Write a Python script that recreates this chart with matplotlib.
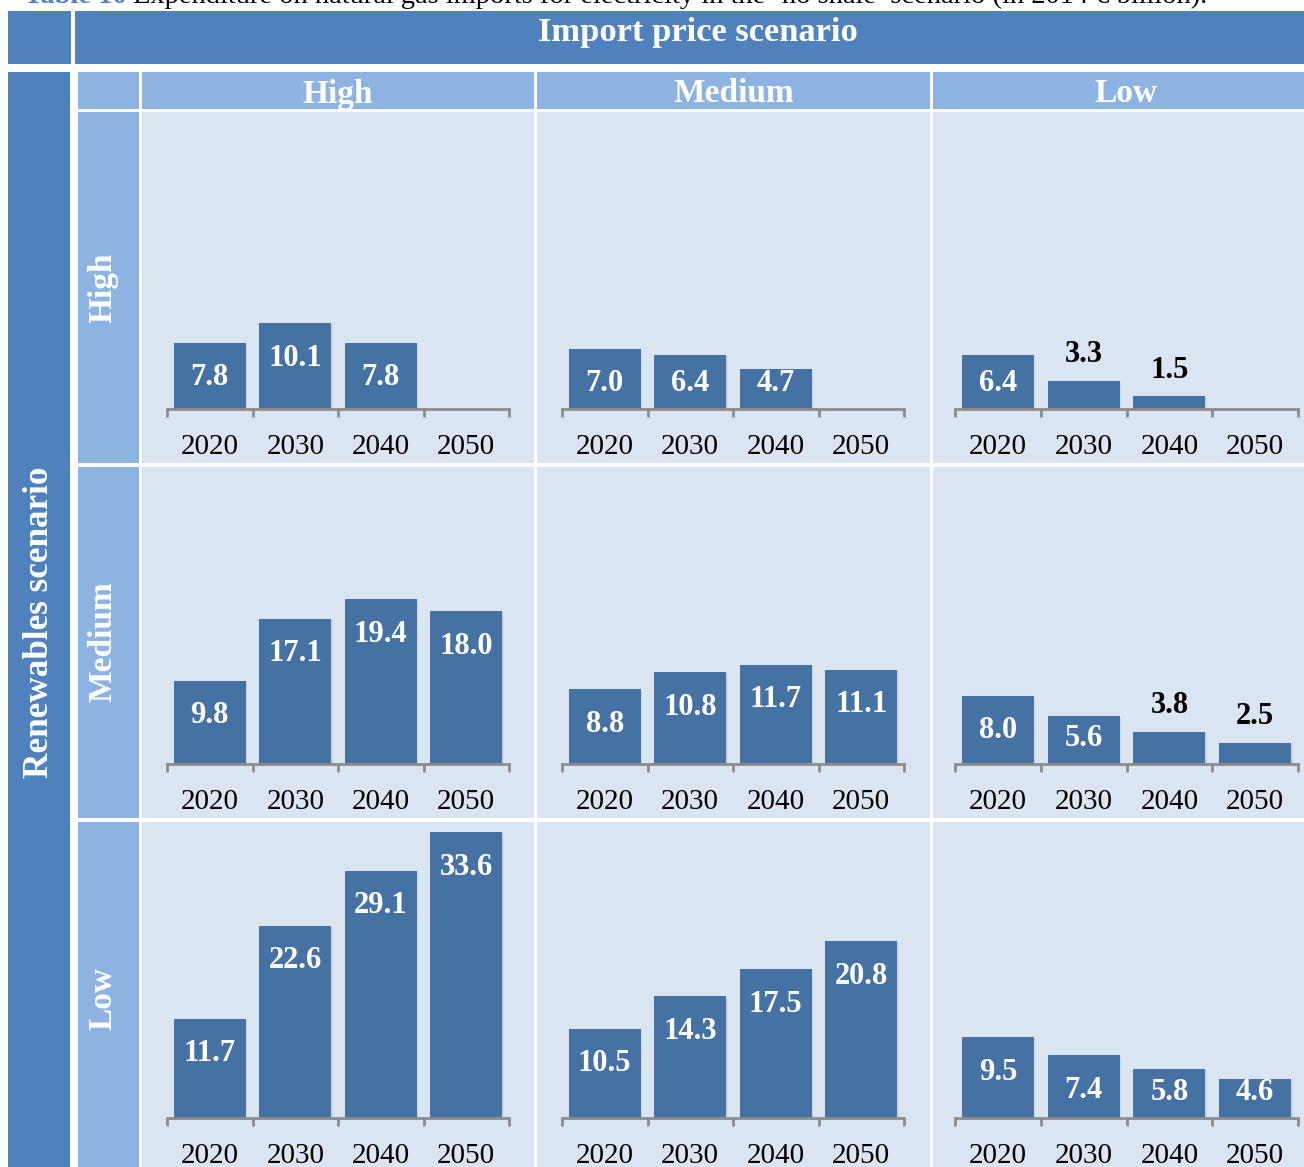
import matplotlib
matplotlib.use('Agg')
import matplotlib.pyplot as plt
from matplotlib.patches import Rectangle
import numpy as np

years = ['2020', '2030', '2040', '2050']
price_scenarios = ['High', 'Medium', 'Low']
renewables_scenarios = ['High', 'Medium', 'Low']

# expenditure (2014 EUR bn), one list per renewables/import-price pair
ren_high_price_high = [7.8, 10.1, 7.8, np.nan]
ren_high_price_medium = [7.0, 6.4, 4.7, np.nan]
ren_high_price_low = [6.4, 3.3, 1.5, np.nan]
ren_medium_price_high = [9.8, 17.1, 19.4, 18.0]
ren_medium_price_medium = [8.8, 10.8, 11.7, 11.1]
ren_medium_price_low = [8.0, 5.6, 3.8, 2.5]
ren_low_price_high = [11.7, 22.6, 29.1, 33.6]
ren_low_price_medium = [10.5, 14.3, 17.5, 20.8]
ren_low_price_low = [9.5, 7.4, 5.8, 4.6]

grid = [[ren_high_price_high, ren_high_price_medium, ren_high_price_low],
        [ren_medium_price_high, ren_medium_price_medium, ren_medium_price_low],
        [ren_low_price_high, ren_low_price_medium, ren_low_price_low]]

caption_num = 'Table 10'
caption = "Expenditure on natural gas imports for electricity in the \u2018no shale\u2019 scenario (in 2014 \u20ac billion)."

DARK = '#4F81BD'
LIGHT = '#8DB3E2'
PANEL = '#DBE5F1'
BAR = '#4672A3'
AXIS = '#8C8C8C'
FONT = ['Liberation Serif', 'DejaVu Serif']

W, H = 1304, 1167
PX_PER_UNIT = 8.5

fig = plt.figure(figsize=(W / 100, H / 100), dpi=100)
fig.patch.set_facecolor('white')

# background table drawn in pixel coordinates
bg = fig.add_axes([0, 0, 1, 1])
bg.set_xlim(0, W)
bg.set_ylim(H, 0)
bg.set_axis_off()


def cell(x0, y0, x1, y1, color):
    bg.add_patch(Rectangle((x0, y0), x1 - x0, y1 - y0, facecolor=color, edgecolor='none'))


cell(8, 11, 71, 64, DARK)
cell(75, 11, W, 64, DARK)
cell(8, 72, 70, H, DARK)
cell(78, 72, 139, 109, LIGHT)

col_edges = [(142, 534), (537, 930), (933, W)]
row_edges = [(112, 463), (467, 818), (822, H)]
for x0, x1 in col_edges:
    cell(x0, 72, x1, 109, LIGHT)
for y0, y1 in row_edges:
    cell(78, y0, 139, y1, LIGHT)
    for x0, x1 in col_edges:
        cell(x0, y0, x1, y1, PANEL)

# caption line runs off the top edge of the page
bg.text(24, 3, caption_num, color=DARK, fontsize=20.5, fontweight='bold', family=FONT,
        ha='left', va='baseline', zorder=0)
bg.text(133, 3, caption, color='black', fontsize=20.5, family=FONT, ha='left', va='baseline',
        zorder=0)

bg.text(698, 33, 'Import price scenario', color='white', fontsize=24.8, fontweight='bold',
        family=FONT, ha='center', va='center')
for (x0, x1), name in zip(col_edges[:2] + [(933, 1318)], price_scenarios):
    bg.text((x0 + x1) / 2, 94, name, color='white', fontsize=24, fontweight='bold',
            family=FONT, ha='center', va='center')
bg.text(40, 622, 'Renewables scenario', color='white', fontsize=25.3, fontweight='bold',
        family=FONT, ha='center', va='center', rotation=90)
for yc, name in zip([288, 642, 998], renewables_scenarios):
    bg.text(103, yc, name, color='white', fontsize=24, fontweight='bold',
            family=FONT, ha='center', va='center', rotation=90)

# one small bar chart per cell
axis_x = [(167, 509), (562, 904), (955, 1298)]
baselines = [409, 764, 1118]

for r, (top, _) in enumerate(row_edges):
    base = baselines[r]
    for c, (ax0, ax1) in enumerate(axis_x):
        values = grid[r][c]
        ax = fig.add_axes([ax0 / W, (H - base) / H, (ax1 - ax0) / W, (base - top) / H])
        ax.patch.set_alpha(0)
        ax.set_xlim(-0.5, 3.5)
        ax.set_ylim(0, (base - top) / PX_PER_UNIT)
        for s in ['top', 'right', 'left']:
            ax.spines[s].set_visible(False)
        ax.spines['bottom'].set_color(AXIS)
        ax.spines['bottom'].set_linewidth(2)
        ax.set_yticks([])
        ax.set_xticks([-0.5, 0.5, 1.5, 2.5, 3.5])
        ax.set_xticklabels([])
        ax.tick_params(axis='x', length=6, width=2, color=AXIS, direction='out')

        x = np.arange(len(years))
        # soft drop shadow behind each bar
        ax.bar(x + 0.018, values, width=0.84, bottom=-0.2, color='#A7B3C2', alpha=0.3,
               linewidth=0, zorder=1)
        ax.bar(x, values, width=0.84, color=BAR, linewidth=0, zorder=2)

        for xi, v in zip(x, values):
            if np.isnan(v):
                continue
            if v < 4:
                ax.text(xi, v + 26 / PX_PER_UNIT, f'{v:.1f}', color='black', fontsize=22,
                        fontweight='bold', family=FONT, ha='center', va='center', zorder=3)
            else:
                ax.text(xi, max(v - 35 / PX_PER_UNIT, 25 / PX_PER_UNIT), f'{v:.1f}',
                        color='white', fontsize=22, fontweight='bold', family=FONT,
                        ha='center', va='center', zorder=3)

        for xi, yr in zip(x, years):
            ax.text(xi, -38 / PX_PER_UNIT, yr, color='black', fontsize=21, family=FONT,
                    ha='center', va='center', clip_on=False)

fig.savefig('out.png', dpi=100, facecolor='white')
